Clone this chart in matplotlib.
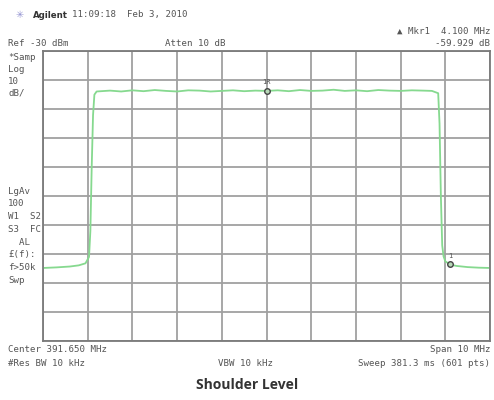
import numpy as np
import matplotlib
matplotlib.use('Agg')
import matplotlib.pyplot as plt

# spectrum analyzer screen: center 391.650 MHz, span 10 MHz, ref -30 dBm, 10 dB/div
center = 391.650
span = 10.0
ref_level = -30
db_div = 10

# trace (offset from center in MHz, level in dBm)
freq_off = [-5.0, -4.7, -4.4, -4.2, -4.05, -3.97, -3.94, -3.91, -3.88, -3.85, -3.80,
            -3.5, -3.25, -3.0, -2.75, -2.5, -2.25, -2.0, -1.75, -1.5, -1.25, -1.0,
            -0.75, -0.5, -0.25, 0.0, 0.25, 0.5, 0.75, 1.0, 1.25, 1.5, 1.75, 2.0,
            2.25, 2.5, 2.75, 3.0, 3.25, 3.5, 3.7, 3.84, 3.87, 3.90, 3.93, 3.96,
            4.0, 4.1, 4.25, 4.5, 4.75, 5.0]
level = [-104.8, -104.6, -104.3, -103.9, -103.2, -101.0, -92.0, -70.0, -52.0, -45.0, -43.9,
         -43.6, -43.9, -43.5, -43.8, -43.4, -43.7, -43.9, -43.5, -43.6, -43.9, -43.7,
         -43.5, -43.8, -43.6, -43.7, -43.5, -43.8, -43.4, -43.7, -43.6, -43.3, -43.7,
         -43.5, -43.8, -43.4, -43.6, -43.7, -43.5, -43.6, -43.7, -44.5, -55.0, -80.0,
         -97.0, -100.8, -102.5, -103.6, -104.1, -104.5, -104.7, -104.8]

# markers: 1R at center, delta marker 1 at +4.100 MHz
mkr_ref = (0.0, -43.7)
mkr_delta = (4.100, -103.6)

freqs = center + np.array(freq_off)

fig = plt.figure(figsize=(4.94, 4.00), dpi=100)
fig.patch.set_facecolor('white')
ax = fig.add_axes([0.087, 0.1475, 0.905, 0.7245])

ax.set_xlim(center - span / 2, center + span / 2)
ax.set_ylim(ref_level - 10 * db_div, ref_level)
ax.set_xticks(np.linspace(center - span / 2, center + span / 2, 11))
ax.set_yticks(np.arange(ref_level - 10 * db_div, ref_level + 1, db_div))
ax.tick_params(length=0, labelbottom=False, labelleft=False)
ax.grid(True, color='#a0a0a0', linewidth=1.3)
for s in ax.spines.values():
    s.set_color('#7a7a7a')
    s.set_linewidth(1.3)

ax.plot(freqs, level, color='#86d98f', linewidth=1.3)

# markers
for (fo, lv), lab in [(mkr_ref, '1R'), (mkr_delta, '1')]:
    ax.plot(center + fo, lv, 'o', ms=4, mfc='#b8d8b8', mec='#444444', mew=1)
    ax.annotate(lab, (center + fo, lv), xytext=(0, 4), textcoords='offset points',
                ha='center', va='bottom', fontsize=5, color='#555555',
                family='DejaVu Sans Mono')

txt = dict(fontsize=6.6, color='#555555', family='DejaVu Sans Mono')
# header
fig.text(20 / 494, 1 - 15 / 400, '\u2733', fontsize=7, color='#9090d0', va='center', ha='center')
fig.text(33 / 494, 1 - 15 / 400, 'Agilent', fontsize=6.2, color='#333333', weight='bold', va='center')
fig.text(72 / 494, 1 - 15 / 400, '11:09:18  Feb 3, 2010', va='center', **txt)
fig.text(8 / 494, 1 - 44 / 400, 'Ref -30 dBm', va='center', **txt)
fig.text(165 / 494, 1 - 44 / 400, 'Atten 10 dB', va='center', **txt)
fig.text(490 / 494, 1 - 31 / 400, '\u25b2 Mkr1  4.100 MHz', ha='right', va='center', **txt)
fig.text(490 / 494, 1 - 44 / 400, '-59.929 dB', ha='right', va='center', **txt)

# left column annotations
left_top = ['*Samp', 'Log', '10', 'dB/']
for i, t in enumerate(left_top):
    fig.text(8 / 494, 1 - (57 + 12 * i) / 400, t, va='center', **txt)
left_mid = ['LgAv', '100', 'W1  S2', 'S3  FC', '  AL', '\u00a3(f):', 'f>50k', 'Swp']
for i, t in enumerate(left_mid):
    fig.text(8 / 494, 1 - (191 + 12.8 * i) / 400, t, va='center', **txt)

# footer
fig.text(8 / 494, 1 - 350 / 400, 'Center 391.650 MHz', va='center', **txt)
fig.text(8 / 494, 1 - 363 / 400, '#Res BW 10 kHz', va='center', **txt)
fig.text(245 / 494, 1 - 363 / 400, 'VBW 10 kHz', ha='center', va='center', **txt)
fig.text(490 / 494, 1 - 350 / 400, 'Span 10 MHz', ha='right', va='center', **txt)
fig.text(490 / 494, 1 - 363 / 400, 'Sweep 381.3 ms (601 pts)', ha='right', va='center', **txt)

fig.text(247 / 494, 1 - 385 / 400, 'Shoulder Level', ha='center', va='center',
         fontsize=10, weight='bold', color='#333333', family='Open Sans')

fig.savefig('out.png', dpi=100)
